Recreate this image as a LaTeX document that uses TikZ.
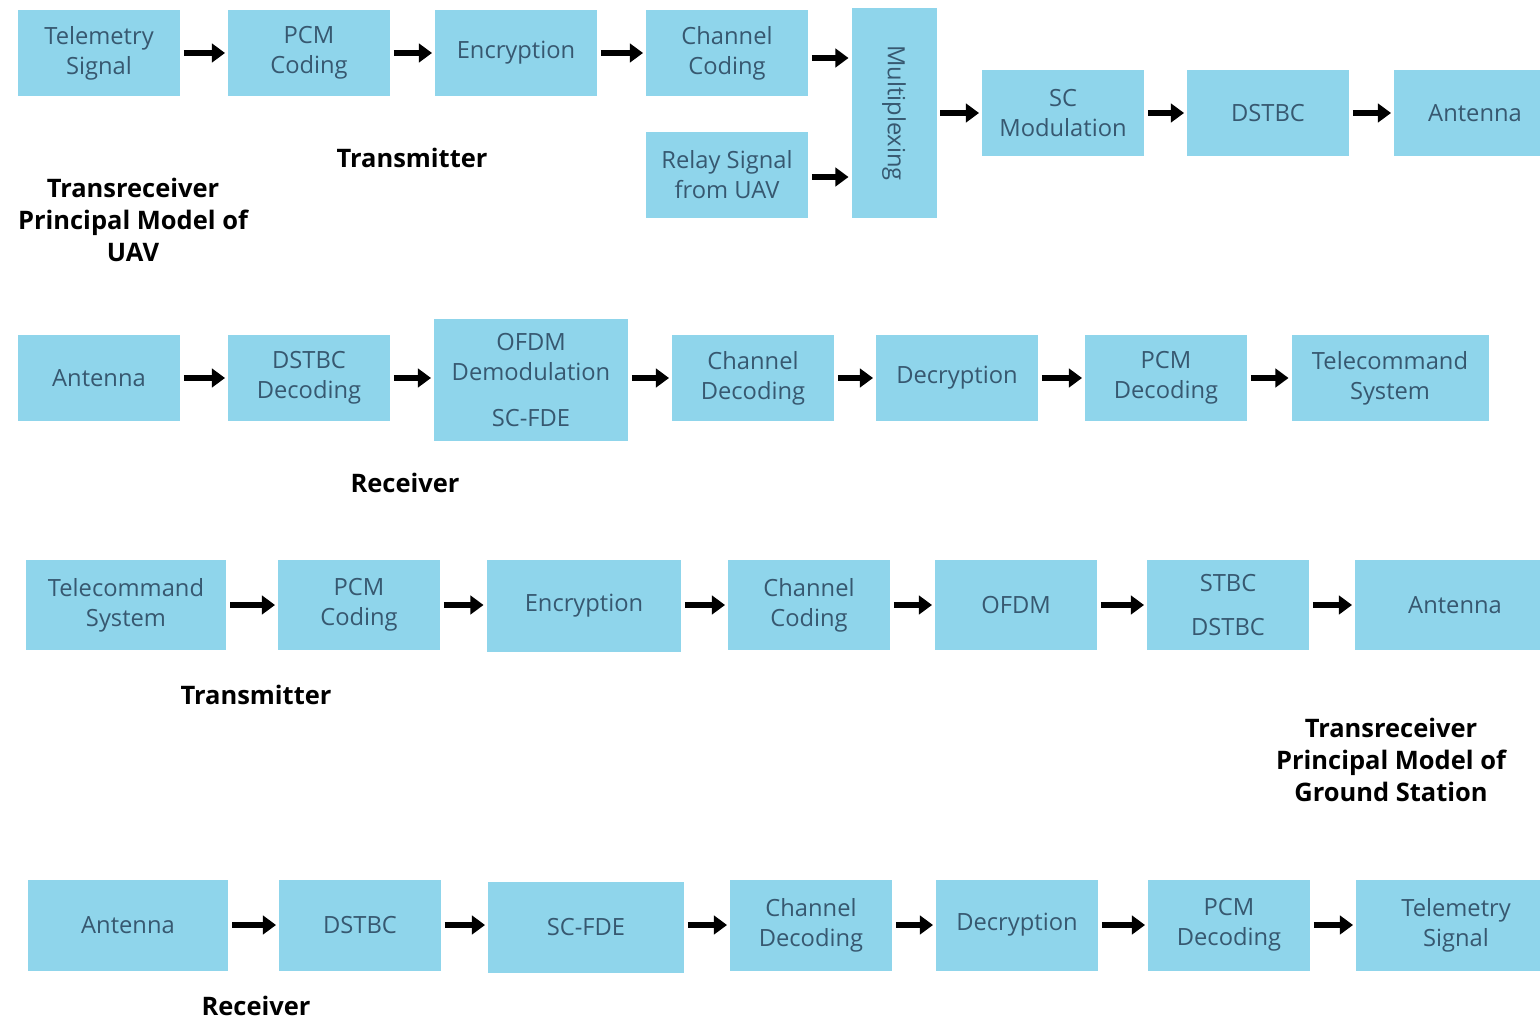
\documentclass[tikz,border=0pt]{standalone}
\usepackage{fontspec}
\setmainfont{Open Sans}
\usetikzlibrary{arrows.meta}
\definecolor{boxblue}{RGB}{143,213,235}
\definecolor{boxtext}{RGB}{55,88,112}
\tikzset{
	blk/.style={fill=boxblue,text=boxtext,align=center,inner sep=2pt,
		font=\fontsize{13.5}{17}\selectfont,minimum width=3.24cm,minimum height=1.74cm},
	lbl/.style={align=center,font=\fontsize{14.5}{18}\selectfont\bfseries},
	arr/.style={line width=2.9pt,-{Triangle[length=7.5pt,width=10.5pt]},shorten <=2pt,shorten >=1.5pt}
}

\begin{document}
\begin{tikzpicture}[x=0.02cm,y=-0.02cm]
	\useasboundingbox (0,0) rectangle (1540,1020);
	\clip (0,0) rectangle (1540,1020);
	% UAV transmitter
	\node[blk] (ut1) at (99,53) {Telemetry\\Signal};
	\node[blk] (ut2) at (309,53) {PCM\\Coding};
	\node[blk] (ut3) at (516,53) {Encryption};
	\node[blk] (ut4) at (727,53) {Channel\\Coding};
	\node[blk,minimum height=1.72cm] (ut5) at (727,175) {Relay Signal\\from UAV};
	\node[blk,minimum width=1.7cm,minimum height=4.2cm] (mux) at (894,113) {\rotatebox{-90}{Multiplexing}};
	\node[blk,minimum height=1.72cm] (ut6) at (1063,113) {SC\\Modulation};
	\node[blk,minimum height=1.72cm] (ut7) at (1268,113) {DSTBC};
	\node[blk,minimum height=1.72cm] (ut8) at (1475,113) {Antenna};
	\path[arr]
	(ut1) edge (ut2)
	(ut2) edge (ut3)
	(ut3) edge (ut4)
	(ut4.east) ++(0,5) edge (mux.west |- 0,58)
	(ut5.east) ++(0,2) edge (mux.west |- 0,177)
	(mux) edge (ut6)
	(ut6) edge (ut7)
	(ut7) edge (ut8);
	\node[lbl] (lab1) at (412,158) {Transmitter};
	\node[lbl] (lab2) at (133,220) {Transreceiver\\Principal Model of\\UAV};
	% UAV receiver
	\node[blk,minimum height=1.72cm] (ur1) at (99,378) {Antenna};
	\node[blk,minimum height=1.72cm] (ur2) at (309,378) {DSTBC\\Decoding};
	\node[blk,minimum width=3.88cm,minimum height=2.46cm] (ur3) at (531,380) {OFDM\\Demodulation\\[9pt]SC-FDE};
	\node[blk,minimum height=1.72cm] (ur4) at (753,378) {Channel\\Decoding};
	\node[blk,minimum height=1.72cm] (ur5) at (957,378) {Decryption};
	\node[blk,minimum height=1.72cm] (ur6) at (1166,378) {PCM\\Decoding};
	\node[blk,minimum width=3.94cm,minimum height=1.72cm] (ur7) at (1390,378) {Telecommand\\System};
	\path[arr]
	(ur1) edge (ur2)
	(ur2) edge (ur2 -| ur3.west)
	(ur3.east |- ur4) edge (ur4)
	(ur4) edge (ur5)
	(ur5) edge (ur6)
	(ur6) edge (ur7);
	\node[lbl] (lab3) at (405,483) {Receiver};
	% ground station transmitter
	\node[blk,minimum width=4.02cm,minimum height=1.82cm] (gt1) at (126,605) {Telecommand\\System};
	\node[blk,minimum height=1.82cm] (gt2) at (359,605) {PCM\\Coding};
	\node[blk,minimum width=3.9cm,minimum height=1.86cm] (gt3) at (584,606) {Encryption};
	\node[blk,minimum height=1.82cm] (gt4) at (809,605) {Channel\\Coding};
	\node[blk,minimum height=1.82cm] (gt5) at (1016,605) {OFDM};
	\node[blk,minimum height=1.82cm] (gt6) at (1228,605) {STBC\\[8pt]DSTBC};
	\node[blk,minimum width=4cm,minimum height=1.82cm] (gt7) at (1455,605) {Antenna};
	\path[arr]
	(gt1) edge (gt2)
	(gt2) edge (gt2 -| gt3.west)
	(gt3.east |- gt4) edge (gt4)
	(gt4) edge (gt5)
	(gt5) edge (gt6)
	(gt6) edge (gt7);
	\node[lbl] (lab4) at (256,695) {Transmitter};
	\node[lbl] (lab5) at (1391,760) {Transreceiver\\Principal Model of\\Ground Station};
	% ground station receiver
	\node[blk,minimum width=4.02cm,minimum height=1.82cm] (gr1) at (128,925) {Antenna};
	\node[blk,minimum height=1.82cm] (gr2) at (360,925) {DSTBC};
	\node[blk,minimum width=3.92cm,minimum height=1.82cm] (gr3) at (586,927) {SC-FDE};
	\node[blk,minimum height=1.82cm] (gr4) at (811,925) {Channel\\Decoding};
	\node[blk,minimum height=1.82cm] (gr5) at (1017,925) {Decryption};
	\node[blk,minimum height=1.82cm] (gr6) at (1229,925) {PCM\\Decoding};
	\node[blk,minimum width=4cm,minimum height=1.82cm] (gr7) at (1456,925) {Telemetry\\Signal};
	\path[arr]
	(gr1) edge (gr2)
	(gr2) edge (gr2 -| gr3.west)
	(gr3.east |- gr4) edge (gr4)
	(gr4) edge (gr5)
	(gr5) edge (gr6)
	(gr6) edge (gr7);
	\node[lbl] (lab6) at (256,1006) {Receiver};
\end{tikzpicture}
\end{document}
